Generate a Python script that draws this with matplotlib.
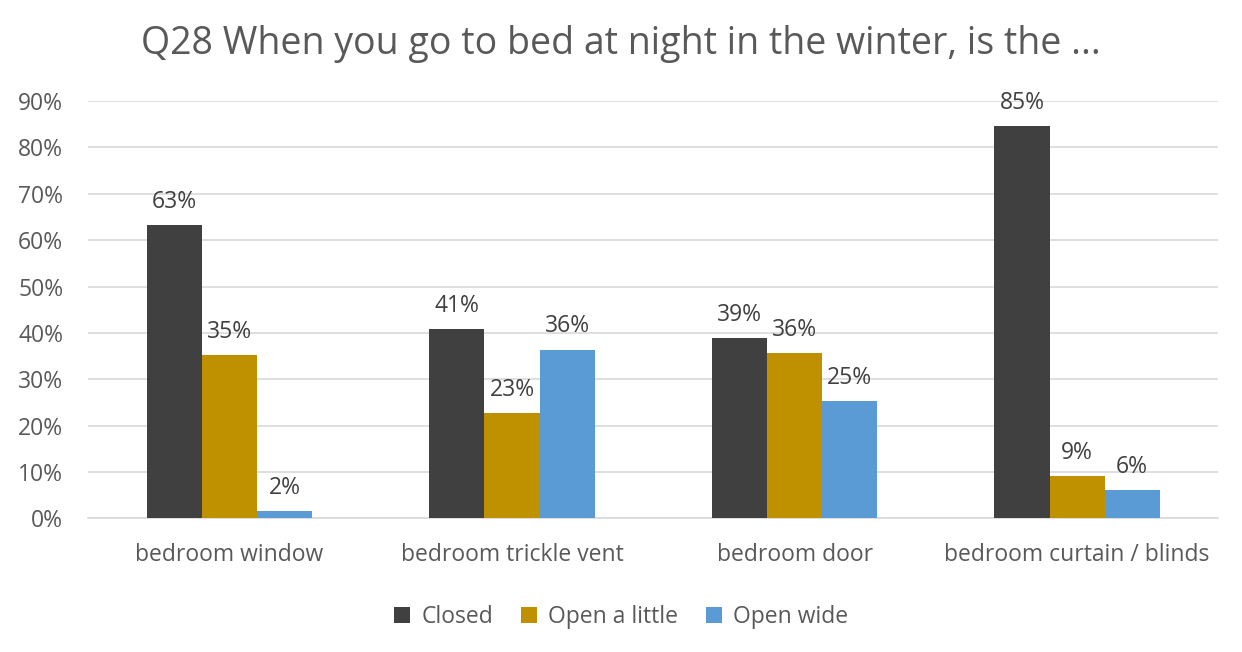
import numpy as np
import matplotlib.pyplot as plt
from matplotlib.ticker import PercentFormatter

plt.rcParams['font.family'] = ['Open Sans', 'DejaVu Sans']

# data (percent)
categories = ["bedroom window", "bedroom trickle vent", "bedroom door", "bedroom curtain / blinds"]
closed = [63.2, 40.9, 38.8, 84.6]
open_little = [35.3, 22.7, 35.7, 9.1]
open_wide = [1.5, 36.4, 25.3, 6.1]
series_names = ["Closed", "Open a little", "Open wide"]
colors = ["#404040", "#BF9000", "#5B9BD5"]

text_col = "#595959"
fig = plt.figure(figsize=(12.42, 6.52), dpi=100)
ax = fig.add_axes([0.071, 0.205, 0.910, 0.64])

x = np.arange(len(categories))
w = 0.195
for i, (vals, name, c) in enumerate(zip([closed, open_little, open_wide], series_names, colors)):
    pos = x + (i - 1) * w
    bars = ax.bar(pos, vals, width=w, color=c, label=name, zorder=3)
    for b, v in zip(bars, vals):
        ax.text(b.get_x() + b.get_width() / 2, v + 2.4, f"{round(v):.0f}%",
                ha="center", va="bottom", fontsize=16.5, color="#404040")

ax.set_xlim(-0.5, len(categories) - 0.5)
ax.set_ylim(0, 90)
ax.set_yticks(range(0, 91, 10))
ax.yaxis.set_major_formatter(PercentFormatter(decimals=0))
ax.grid(axis="y", color="#D9D9D9", linewidth=1.2, zorder=0)
for s in ["top", "right", "left"]:
    ax.spines[s].set_visible(False)
ax.spines["bottom"].set_color("#D9D9D9")
ax.spines["bottom"].set_linewidth(1.2)
ax.set_xticks(x)
ax.set_xticklabels(categories)
ax.tick_params(axis="both", length=0, labelsize=16.5, labelcolor=text_col)
ax.tick_params(axis="x", pad=18)
ax.tick_params(axis="y", pad=18)

fig.suptitle("Q28 When you go to bed at night in the winter, is the ...",
             fontsize=27, color=text_col, x=0.5, y=0.962)
fig.legend(loc="lower center", ncol=3, frameon=False, fontsize=16.5,
           bbox_to_anchor=(0.5, 0.003), handlelength=0.7, handleheight=0.7,
           columnspacing=1.2, handletextpad=0.5, labelcolor=text_col)

fig.savefig("out.png", dpi=100)
